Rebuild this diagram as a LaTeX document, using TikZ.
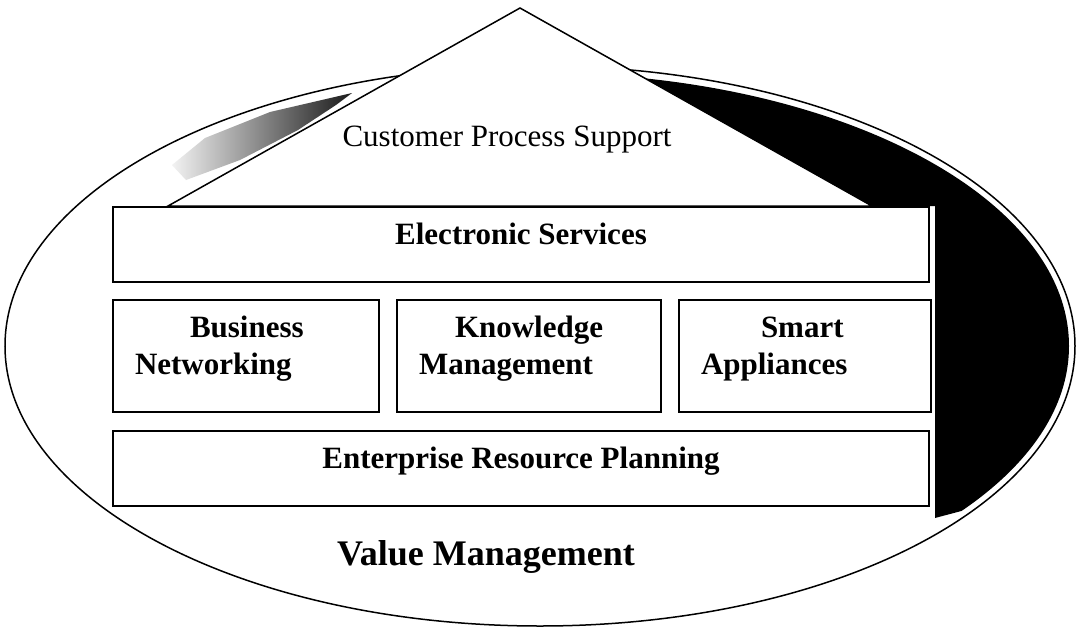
\documentclass[tikz,border=0pt]{standalone}
\usepackage{fontspec}
\setmainfont{Liberation Serif}
\usetikzlibrary{positioning}
\tikzstyle{layer} = [rectangle, draw=black, fill=white, line width=1pt, minimum width=408pt, minimum height=37.5pt, text height=10.5pt, text depth=10.5pt, text centered, font=\fontsize{15.5}{18.5}\selectfont\bfseries]
\tikzstyle{pillar} = [rectangle, draw=black, fill=white, line width=1pt, minimum height=56pt, inner xsep=11pt, align=left, text height=10.5pt, text depth=29pt, font=\fontsize{15.5}{18.5}\selectfont\bfseries]
\tikzstyle{roof} = [draw=black, fill=white, line width=0.75pt, line join=miter]

\begin{document}
\begin{tikzpicture}[x=0.5pt, y=-0.5pt]
    \useasboundingbox (0,0) rectangle (1078,627);

    % outer ellipse
    \draw[line width=0.75pt, fill=white] (540,346) ellipse [x radius=535, y radius=280];

    % shadows inside the ellipse
    \begin{scope}
        \clip (540,346) ellipse [x radius=529, y radius=273];
        \shade[left color=black!5, middle color=black!70, right color=black!90] (352,93) -- (270,112) -- (205,138) -- (172,165) -- (186,180) -- (240,160) -- (298,130) -- (336,105) -- cycle;
        \fill[black] (520,8) -- (1078,8) -- (1078,480) -- (935,518) -- (935,206) -- (872,206) -- cycle;
    \end{scope}

    % roof
    \draw[roof] (168,206) -- (520,8) -- (872,206) -- cycle;
    \node (cps) [anchor=base, font=\fontsize{15.5}{18.5}\selectfont] at (507,146) {Customer Process Support};

    % layers and pillars
    \node (es) [layer] at (521,244.5) {Electronic Services};
    \node (bn) [pillar, text width=111pt] at (246,356) {\hspace*{27.5pt}Business\\Networking};
    \node (km) [pillar, text width=110pt] at (529,356) {\hspace*{18pt}Knowledge\\Management};
    \node (sa) [pillar, text width=104pt] at (805,356) {\hspace*{30pt}Smart\\Appliances};
    \node (erp) [layer] at (521,468.5) {Enterprise Resource Planning};

    \node (vm) [anchor=base, font=\fontsize{18}{21}\selectfont\bfseries] at (486,565) {Value Management};
\end{tikzpicture}
\end{document}
